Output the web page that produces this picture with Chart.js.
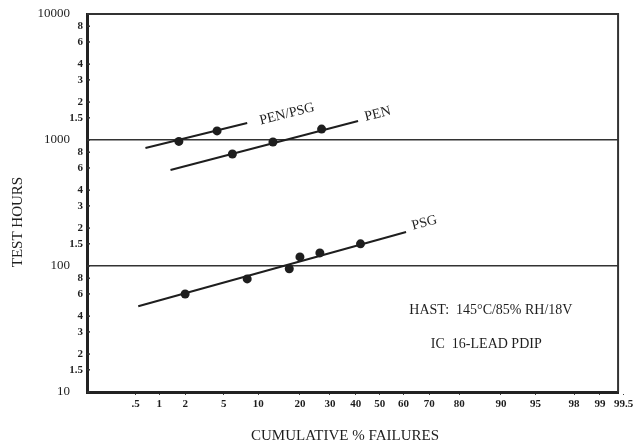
<!DOCTYPE html>
<html><head><meta charset="utf-8">
<script src="https://cdn.jsdelivr.net/npm/chart.js@4.4.1/dist/chart.umd.min.js"></script>
<style>html,body{margin:0;padding:0;background:#fff;}#wrap{width:636px;height:446px;position:relative;}</style>
</head><body><div id="wrap"><canvas id="c" width="636" height="446"></canvas></div>
<script>
// ---- tick labels ----
const xTickValues = [0.5, 1, 2, 5, 10, 20, 30, 40, 50, 60, 70, 80, 90, 95, 98, 99, 99.5];
const xTickLabels = ['.5', '1', '2', '5', '10', '20', '30', '40', '50', '60', '70', '80', '90', '95', '98', '99', '99.5'];
const yTickValues = [10, 15, 20, 30, 40, 60, 80, 100, 150, 200, 300, 400, 600, 800, 1000, 1500, 2000, 3000, 4000, 6000, 8000, 10000];
const yTickLabels = ['10', '1.5', '2', '3', '4', '6', '8', '100', '1.5', '2', '3', '4', '6', '8', '1000', '1.5', '2', '3', '4', '6', '8', '10000'];
const yDecades = [10, 100, 1000, 10000];

// ---- series: cumulative % failures vs test hours ----
const penPsgPct = [1.7, 4.3];
const penPsgHours = [975, 1180];
const penPct = [6.0, 13, 27];
const penHours = [775, 965, 1220];
const psgPct = [2.0, 8.1, 17, 20, 26.4, 42];
const psgHours = [60, 79, 95, 118, 127, 150];

// fitted lines (end points)
const penPsgFitPct = [0.67, 8.1];
const penPsgFitHours = [865, 1365];
const penFitPct = [1.36, 41];
const penFitHours = [578, 1415];
const psgFitPct = [0.54, 61];
const psgFitHours = [48, 186];

// ---- probability (normal) scale ----
function probit(p) {
  const a = [-3.969683028665376e+01, 2.209460984245205e+02, -2.759285104469687e+02, 1.383577518672690e+02, -3.066479806614716e+01, 2.506628277459239e+00];
  const b = [-5.447609879822406e+01, 1.615858368580409e+02, -1.556989798598866e+02, 6.680131188771972e+01, -1.328068155288572e+01];
  const c = [-7.784894002430293e-03, -3.223964580411365e-01, -2.400758277161838e+00, -2.549732539343734e+00, 4.374664141464968e+00, 2.938163982698783e+00];
  const d = [7.784695709041462e-03, 3.224671290700398e-01, 2.445134137142996e+00, 3.754408661907416e+00];
  const pl = 0.02425, ph = 1 - pl;
  let q, r;
  if (p < pl) { q = Math.sqrt(-2 * Math.log(p)); return (((((c[0]*q+c[1])*q+c[2])*q+c[3])*q+c[4])*q+c[5]) / ((((d[0]*q+d[1])*q+d[2])*q+d[3])*q+1); }
  if (p <= ph) { q = p - 0.5; r = q*q; return (((((a[0]*r+a[1])*r+a[2])*r+a[3])*r+a[4])*r+a[5])*q / (((((b[0]*r+b[1])*r+b[2])*r+b[3])*r+b[4])*r+1); }
  q = Math.sqrt(-2 * Math.log(1 - p));
  return -(((((c[0]*q+c[1])*q+c[2])*q+c[3])*q+c[4])*q+c[5]) / ((((d[0]*q+d[1])*q+d[2])*q+d[3])*q+1);
}
class ProbitScale extends Chart.LinearScale {
  determineDataLimits() { this.min = this.options.min; this.max = this.options.max; }
  buildTicks() { return xTickValues.map(v => ({ value: v })); }
  getPixelForValue(v) {
    const lo = probit(this.min / 100), hi = probit(this.max / 100);
    return this.getPixelForDecimal((probit(v / 100) - lo) / (hi - lo));
  }
}
ProbitScale.id = 'probit';
ProbitScale.defaults = Chart.LinearScale.defaults;
Chart.register(ProbitScale);

const zip = (xs, ys) => xs.map((x, i) => ({ x: x, y: ys[i] }));
const SERIF = "'Liberation Serif','DejaVu Serif','Times New Roman',serif";
const INK = '#1e1e1e';

const lineDs = (xs, ys) => ({ type: 'line', data: zip(xs, ys), borderColor: INK, borderWidth: 2, pointRadius: 0, showLine: true, fill: false, tension: 0 });
const ptDs = (xs, ys) => ({ type: 'scatter', data: zip(xs, ys), pointRadius: 4.5, pointBackgroundColor: INK, pointBorderColor: INK, pointBorderWidth: 0 });

const decorations = {
  id: 'decorations',
  afterDraw(chart) {
    const { ctx, chartArea: a, scales: { x, y } } = chart;
    ctx.save();
    // top and right frame
    ctx.strokeStyle = '#333'; ctx.lineWidth = 2;
    ctx.beginPath();
    ctx.moveTo(a.left, a.top); ctx.lineTo(a.right, a.top); ctx.lineTo(a.right, a.bottom);
    ctx.stroke();
    // small inward tick marks on the left axis
    ctx.strokeStyle = '#333'; ctx.lineWidth = 1.5;
    yTickValues.forEach(v => {
      const py = y.getPixelForValue(v);
      ctx.beginPath(); ctx.moveTo(a.left, py); ctx.lineTo(a.left + 3, py); ctx.stroke();
    });
    ctx.fillStyle = INK;
    const text = (txt, px, py, rot, size) => {
      ctx.save();
      ctx.translate(px, py);
      ctx.rotate(rot * Math.PI / 180);
      ctx.font = size + 'px ' + SERIF;
      ctx.textAlign = 'center'; ctx.textBaseline = 'middle';
      ctx.fillText(txt, 0, 0);
      ctx.restore();
    };
    const label = (txt, pv, hv, rot, size) => text(txt, x.getPixelForValue(pv), y.getPixelForValue(hv), rot, size);
    label('PEN/PSG', 16.4, 1607, -14, 14);
    label('PEN', 49.2, 1607, -14, 14);
    label('PSG', 68.2, 220, -15, 14);
    label('HAST:  145\u00B0C/85% RH/18V', 88, 44.8, 0, 14);
    label('IC  16-LEAD PDIP', 87, 24, 0, 14);
    // axis titles
    text('CUMULATIVE % FAILURES', 345, 436, 0, 15);
    text('TEST HOURS', 18, 222, -90, 15);
    ctx.restore();
  }
};

new Chart(document.getElementById('c'), {
  type: 'scatter',
  data: {
    datasets: [
      lineDs(penPsgFitPct, penPsgFitHours),
      lineDs(penFitPct, penFitHours),
      lineDs(psgFitPct, psgFitHours),
      ptDs(penPsgPct, penPsgHours),
      ptDs(penPct, penHours),
      ptDs(psgPct, psgHours)
    ]
  },
  options: {
    responsive: false,
    animation: false,
    layout: { padding: { top: 14, right: 16, left: 0, bottom: 0 } },
    plugins: { legend: { display: false }, tooltip: { enabled: false } },
    scales: {
      x: {
        type: 'probit', min: 0.1, max: 99.41, position: 'bottom',
        afterFit: s => { s.height = 54; },
        grid: { drawOnChartArea: false, drawTicks: true, tickLength: 3, color: '#444' },
        border: { display: true, color: '#222', width: 3 },
        ticks: { autoSkip: false, maxRotation: 0, minRotation: 0, padding: 3, color: INK,
          font: { family: SERIF, size: 11, weight: 'bold' },
          callback: (v, i) => xTickLabels[i] },
        title: { display: false }
      },
      y: {
        type: 'logarithmic', min: 10, max: 10000,
        afterFit: s => { s.width = 87; },
        afterBuildTicks: s => { s.ticks = yTickValues.map(v => ({ value: v })); },
        grid: {
          drawOnChartArea: true, drawTicks: true, tickLength: 3, tickColor: 'rgba(0,0,0,0)',
          color: c => (c.tick && (c.tick.value === 100 || c.tick.value === 1000)) ? '#333' : 'rgba(0,0,0,0)',
          lineWidth: 1.5
        },
        border: { display: true, color: '#222', width: 3 },
        ticks: { autoSkip: false, padding: 1, color: INK,
          font: c => (c.tick && yDecades.includes(c.tick.value)) ? { family: SERIF, size: 13 } : { family: SERIF, size: 11, weight: 'bold' },
          callback: (v, i) => yDecades.includes(yTickValues[i]) ? yTickLabels[i] + '\u2002\u2002' : yTickLabels[i] },
        title: { display: false }
      }
    }
  },
  plugins: [decorations]
});
</script></body></html>
